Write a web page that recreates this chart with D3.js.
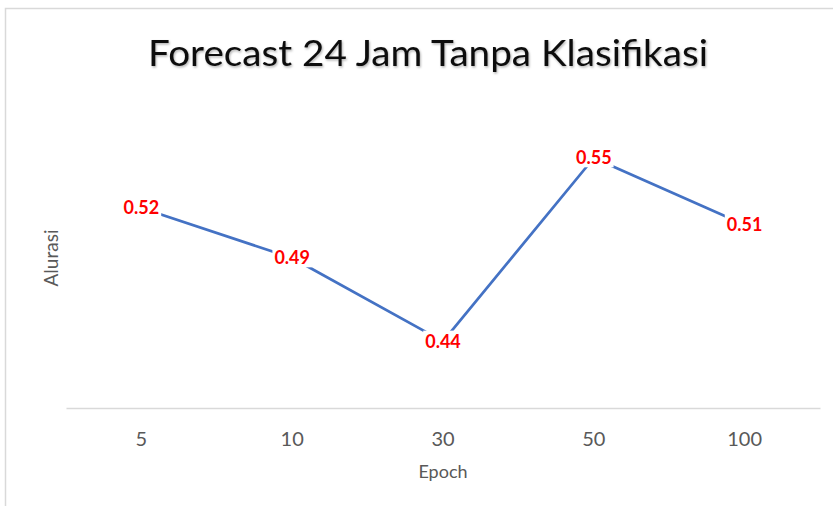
<!DOCTYPE html>
<html>
<head>
<meta charset="utf-8">
<script src="https://cdn.jsdelivr.net/npm/d3@7"></script>
<style>
  html, body { margin: 0; padding: 0; background: #fff; }
  svg { display: block; }
</style>
</head>
<body>
<svg id="chart" width="833" height="506"></svg>
<script>
// Accuracy per training epoch count
const epochs = ["5", "10", "30", "50", "100"];
const accuracy = [0.52, 0.49, 0.44, 0.55, 0.51];
const titleText = "Forecast 24 Jam Tanpa Klasifikasi";
const xTitle = "Epoch";
const yTitle = "Alurasi";

const svg = d3.select("#chart");
const font = "Lato, 'Open Sans', sans-serif";

// Soft shadow used behind the title
const defs = svg.append("defs");
defs.append("filter").attr("id", "titleShadow")
  .attr("x", "-5%").attr("y", "-20%").attr("width", "110%").attr("height", "150%")
  .append("feDropShadow")
  .attr("dx", 1).attr("dy", 1.5).attr("stdDeviation", 1.2)
  .attr("flood-color", "#000").attr("flood-opacity", 0.3);

// Outer chart frame (extends past the right and bottom edges)
svg.append("rect")
  .attr("x", 5.5).attr("y", 8.5)
  .attr("width", 900).attr("height", 600)
  .attr("fill", "#fff")
  .attr("stroke", "#d9d9d9").attr("stroke-width", 1.5);

const plot = { left: 66, right: 820, top: 108, bottom: 408 };

const x = d3.scaleBand().domain(epochs).range([plot.left, plot.right]);
const y = d3.scaleLinear().domain([0.40, 0.58]).range([plot.bottom, plot.top]);

// Title
svg.append("text")
  .attr("x", 428).attr("y", 66)
  .attr("text-anchor", "middle")
  .attr("font-family", font).attr("font-size", 37)
  .attr("textLength", 560).attr("lengthAdjust", "spacingAndGlyphs")
  .attr("fill", "#111")
  .attr("filter", "url(#titleShadow)")
  .text(titleText);

// Category axis
const xAxis = svg.append("g")
  .attr("transform", `translate(0,${plot.bottom})`)
  .call(d3.axisBottom(x).tickSize(0).tickPadding(24));
xAxis.select(".domain").attr("stroke", "#d9d9d9").attr("stroke-width", 1.5);
xAxis.selectAll("text")
  .attr("font-family", font).attr("font-size", 20)
  .attr("fill", "#595959");

// Axis titles
svg.append("text")
  .attr("x", 443).attr("y", 478)
  .attr("text-anchor", "middle")
  .attr("font-family", font).attr("font-size", 18)
  .attr("fill", "#595959")
  .text(xTitle);

svg.append("text")
  .attr("transform", "translate(58,258) rotate(-90)")
  .attr("text-anchor", "middle")
  .attr("font-family", font).attr("font-size", 19)
  .attr("fill", "#595959")
  .text(yTitle);

// Series line
const pts = epochs.map((e, i) => ({ e, v: accuracy[i] }));
const line = d3.line()
  .x(d => x(d.e) + x.bandwidth() / 2)
  .y(d => y(d.v));

svg.append("path")
  .datum(pts)
  .attr("d", line)
  .attr("fill", "none")
  .attr("stroke", "#4472c4")
  .attr("stroke-width", 2.75)
  .attr("stroke-linejoin", "round");

// Value labels centred on points, with white backing
const labels = svg.append("g").selectAll("g")
  .data(pts).join("g")
  .attr("transform", d => `translate(${x(d.e) + x.bandwidth() / 2},${y(d.v)})`);

labels.append("text")
  .attr("text-anchor", "middle")
  .attr("dy", "0.35em")
  .attr("font-family", font).attr("font-size", 18).attr("font-weight", "bold")
  .attr("fill", "#ff0000")
  .text(d => d.v.toFixed(2));

labels.each(function () {
  const g = d3.select(this);
  const bb = g.select("text").node().getBBox();
  g.insert("rect", "text")
    .attr("x", bb.x - 2).attr("y", bb.y + 1)
    .attr("width", bb.width + 4).attr("height", bb.height - 2)
    .attr("fill", "#fff");
});
</script>
</body>
</html>
